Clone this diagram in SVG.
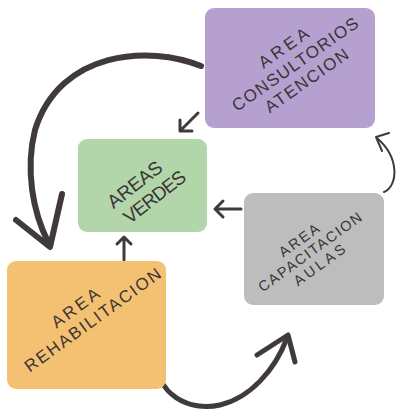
<svg xmlns="http://www.w3.org/2000/svg" width="396" height="414" viewBox="0 0 396 414">
<style>
.lbl{font-family:"Liberation Sans",Arial,sans-serif;fill:#3a3537;text-anchor:middle;}
.c{fill:none;stroke:#403a3c;stroke-linecap:round;stroke-linejoin:round;}
</style>
<rect width="396" height="414" fill="#ffffff"/>
<g id="connectors">
<path class="c" stroke-width="6" d="M201,66 C150,45 60,50 35,130 C25,170 33,212 48,242"/>
<path class="c" stroke-width="6" d="M16,220 L50,247 L62,194"/>
<path class="c" stroke-width="5" d="M157,357 C155,395 190,412 220,405 C250,398 275,370 287,338"/>
<path class="c" stroke-width="5" d="M257,355 L288,335 L295,362"/>
<path class="c" stroke-width="3" d="M198,113 L181,130 M180,120 L180,131 L192,131"/>
<path class="c" stroke-width="3" d="M241,209 L215,209 M223,201 L215,209 L223,217"/>
<path class="c" stroke-width="3" d="M124,260 L124,237 M117,244 L124,237 L131,244"/>
<path class="c" stroke-width="2" d="M384,192 C398,186 400,158 377,138 M389,133 L376,137 L382,151"/>
</g>
<g id="consultorios">
<rect x="205" y="8" width="170" height="120" rx="9" fill="#b5a0cf"/>
<g transform="translate(295,64) rotate(-35)">
<text class="lbl" font-size="17" x="0" y="-14" textLength="57">AREA</text>
<text class="lbl" font-size="17" x="0" y="6" textLength="150">CONSULTORIOS</text>
<text class="lbl" font-size="17" x="0" y="26" textLength="98">ATENCION</text>
</g>
</g>
<g id="verdes">
<rect x="78" y="139" width="129" height="93" rx="9" fill="#b3d5aa"/>
<g transform="translate(145,191) rotate(-38)">
<text class="lbl" font-size="19" x="-4" y="-5" textLength="64">AREAS</text>
<text class="lbl" font-size="19" x="4" y="17" textLength="73">VERDES</text>
</g>
</g>
<g id="rehabilitacion">
<rect x="7" y="261" width="159" height="128" rx="9" fill="#f4c173"/>
<g transform="translate(92,319) rotate(-36)">
<text class="lbl" font-size="17" x="-7" y="-13" textLength="55">AREA</text>
<text class="lbl" font-size="17" x="0" y="7" textLength="164">REHABILITACION</text>
</g>
</g>
<g id="capacitacion">
<rect x="244" y="193" width="140" height="112" rx="9" fill="#bcbdbc"/>
<g transform="translate(310,252) rotate(-36)">
<text class="lbl" font-size="14.5" x="-2" y="-11" textLength="46">AREA</text>
<text class="lbl" font-size="14.5" x="0" y="5" textLength="124">CAPACITACION</text>
<text class="lbl" font-size="14.5" x="0" y="21" textLength="60">AULAS</text>
</g>
</g>
</svg>
